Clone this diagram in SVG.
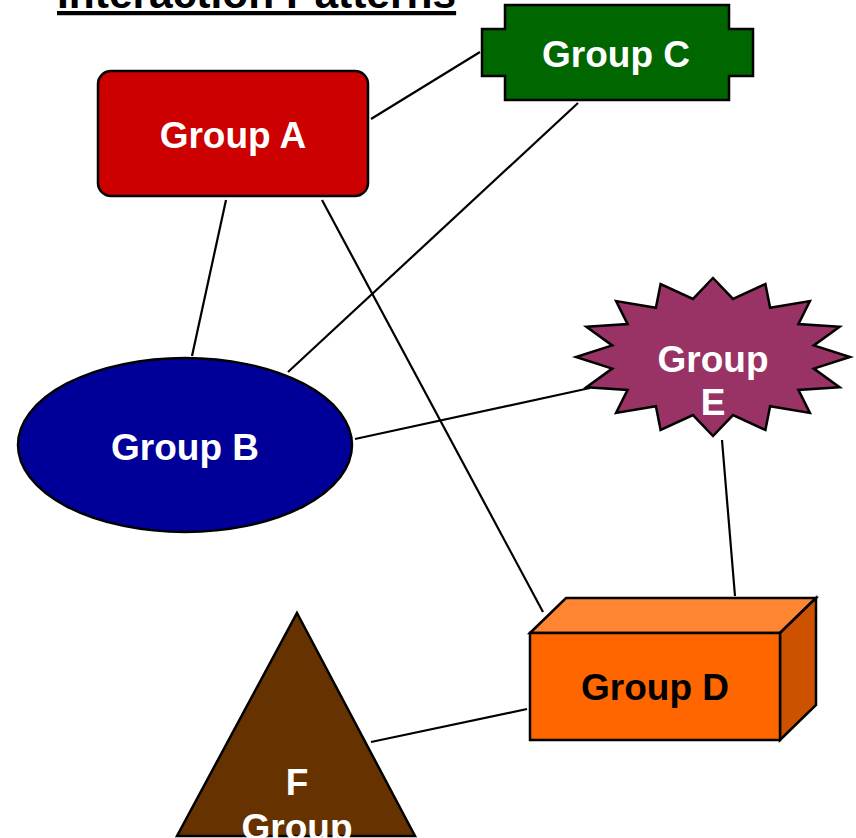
<svg xmlns="http://www.w3.org/2000/svg" width="856" height="838" viewBox="0 0 856 838">
<style>
text { font-family: "Liberation Sans", Arial, sans-serif; font-weight: bold; }
.lbl { font-size: 37px; text-anchor: middle; fill: #ffffff; }
.shape { stroke: #000000; stroke-width: 2.5; stroke-linejoin: miter; }
.conn line { stroke: #000000; stroke-width: 2.2; fill: none; }
</style>
<rect width="856" height="838" fill="#ffffff"/>
<text x="57" y="8" font-size="42.5" fill="#000000" text-decoration="underline">Interaction Patterns</text>
<g id="connectors" class="conn">
<line x1="371" y1="119" x2="480" y2="52"/>
<line x1="578" y1="103" x2="288" y2="372"/>
<line x1="226" y1="200" x2="192" y2="356"/>
<line x1="322" y1="200" x2="543" y2="612"/>
<line x1="355" y1="439" x2="590" y2="388"/>
<line x1="722" y1="440" x2="735" y2="596"/>
<line x1="371" y1="742" x2="527" y2="709"/>
</g>
<g id="groupA">
<rect class="shape" x="98" y="71" width="270" height="125" rx="13" fill="#CC0000"/>
<text class="lbl" x="233" y="148">Group A</text>
</g>
<g id="groupC">
<path class="shape" d="M505,5 H729 V29 H753 V76 H729 V100 H505 V76 H482 V29 H505 Z" fill="#006600"/>
<text class="lbl" x="616" y="67">Group C</text>
</g>
<g id="groupB">
<ellipse class="shape" cx="185" cy="445" rx="167" ry="87" fill="#000099"/>
<text class="lbl" x="185" y="460">Group B</text>
</g>
<g id="groupE">
<polygon class="shape" fill="#993366" points="713,278 733,298.9 765.4,284 770.1,307.7 809.9,301.1 798.4,324.1 839.6,326.8 813.8,345.4 850,357 813.8,368.6 839.6,387.2 798.4,389.9 809.9,412.9 770.1,406.3 765.4,430 733,415.1 713,436 693,415.1 660.6,430 655.9,406.3 616.1,412.9 627.6,389.9 586.4,387.2 612.2,368.6 576,357 612.2,345.4 586.4,326.8 627.6,324.1 616.1,301.1 655.9,307.7 660.6,284 693,298.9"/>
<text class="lbl" x="713" y="372">Group</text>
<text class="lbl" x="713" y="415">E</text>
</g>
<g id="groupD">
<polygon class="shape" points="530,633 566,598 816,598 780,633" fill="#FF8533"/>
<polygon class="shape" points="780,633 816,598 816,705 780,740" fill="#CC5200"/>
<rect class="shape" x="530" y="633" width="250" height="107" fill="#FF6600"/>
<text class="lbl" x="655" y="700" style="fill:#000000">Group D</text>
</g>
<g id="groupF">
<polygon class="shape" points="297,613 415,836 177,836" fill="#663300"/>
<text class="lbl" x="297" y="795">F</text>
<text class="lbl" x="297" y="840">Group</text>
</g>
</svg>
